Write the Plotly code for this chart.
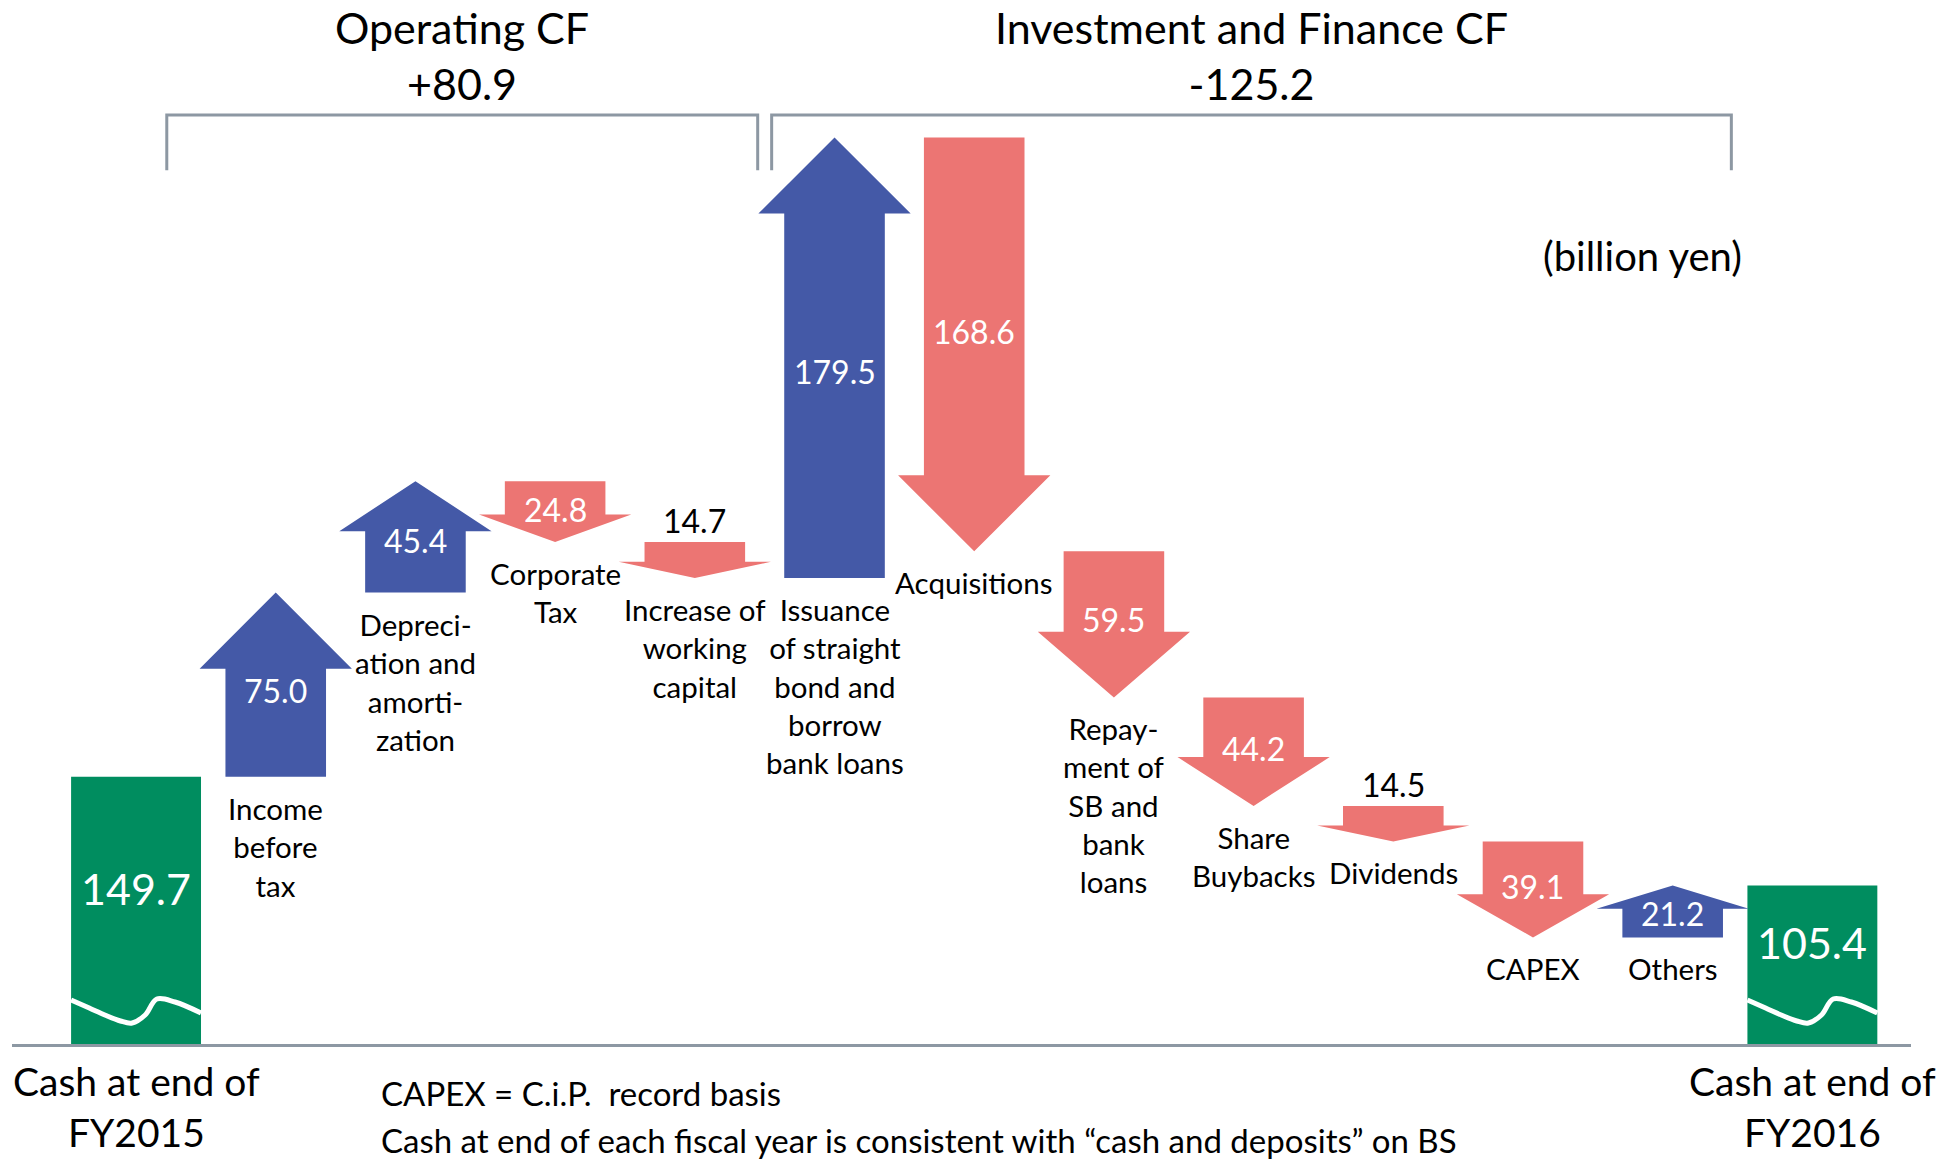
import plotly.graph_objects as go

# ---------------- data ----------------
categories = [
    "Cash at end of FY2015", "Income before tax", "Depreciation and amortization",
    "Corporate Tax", "Increase of working capital",
    "Issuance of straight bond and borrow bank loans", "Acquisitions",
    "Repayment of SB and bank loans", "Share Buybacks", "Dividends", "CAPEX",
    "Others", "Cash at end of FY2016",
]
cash_start = 149.7
cash_end = 105.4
step_values = [75.0, 45.4, -24.8, -14.7, 179.5, -168.6, -59.5, -44.2, -14.5, -39.1, 21.2]
step_labels = [
    "Income<br>before<br>tax",
    "Depreci-<br>ation and<br>amorti-<br>zation",
    "Corporate<br>Tax",
    "Increase of<br>working<br>capital",
    "Issuance<br>of straight<br>bond and<br>borrow<br>bank loans",
    "Acquisitions",
    "Repay-<br>ment of<br>SB and<br>bank<br>loans",
    "Share<br>Buybacks",
    "Dividends",
    "CAPEX",
    "Others",
]
operating_steps = 4  # first four steps belong to operating CF
cash_labels = ["Cash at end of<br>FY2015", "Cash at end of<br>FY2016"]
group_titles = ["Operating CF", "Investment and Finance CF"]
unit_label = "(billion yen)"
footnotes = [
    "CAPEX = C.i.P.  record basis",
    "Cash at end of each fiscal year is consistent with “cash and deposits” on BS",
]

# ---------------- style ----------------
BLUE = "#4459A7"
RED = "#EC7573"
GREEN = "#008D5F"
GRAY = "#8D98A3"
FONT = "Lato"

W, H = 1956, 1163
ML, MR, MT, MB = 12, 45, 0, 119
Y_MIN, Y_MAX = 40.8, 466.1
X_MIN, X_MAX = -0.888, 12.706
PLOT_H = H - MT - MB
UNIT_PER_PX = (Y_MAX - Y_MIN) / PLOT_H

SHAFT = 0.36      # half width of arrow shaft (category units)
HEAD = 0.545      # half width of arrow head
HEAD_FRAC = 0.45
HEAD_MAX = 31.0
BAR_W = 0.93

fig = go.Figure()

# ---------------- arrows ----------------
levels = []
level = cash_start
for i, v in enumerate(step_values):
    c = i + 1
    s = level
    e = s + v
    levels.append((s, e))
    h = min(HEAD_FRAC * abs(v), HEAD_MAX)
    neck = e - h if v > 0 else e + h
    xs = [c - SHAFT, c + SHAFT, c + SHAFT, c + HEAD, c, c - HEAD, c - SHAFT, c - SHAFT]
    ys = [s, s, neck, neck, e, neck, neck, s]
    col = BLUE if v > 0 else RED
    fig.add_trace(go.Scatter(x=xs, y=ys, mode="lines", fill="toself", fillcolor=col,
                             line=dict(width=0, color=col), hoverinfo="text",
                             text=f"{categories[c]}: {v:+.1f}"))
    level = e

# ---------------- cash bars ----------------
fig.add_trace(go.Bar(x=[0, len(categories) - 1], y=[cash_start, cash_end], width=BAR_W,
                     marker=dict(color=GREEN, line=dict(width=0)),
                     hovertext=[categories[0], categories[-1]], hoverinfo="text+y"))

# axis-break waves on cash bars
WAVE_FX = [-0.5, -0.36, -0.24, -0.12, -0.03, 0.07, 0.16, 0.30, 0.5]
WAVE_PX = [44, 36, 29, 23, 21, 29, 45, 42, 31]
for cx in [0, len(categories) - 1]:
    fig.add_trace(go.Scatter(
        x=[cx + f * BAR_W for f in WAVE_FX],
        y=[Y_MIN + p * UNIT_PER_PX for p in WAVE_PX],
        mode="lines", line=dict(color="white", width=5, shape="spline", smoothing=1.0),
        hoverinfo="skip"))

annotations = []

# cash values
for cx, val in [(0, cash_start), (len(categories) - 1, cash_end)]:
    annotations.append(dict(x=cx, y=(Y_MIN + 18 + val) / 2, xref="x", yref="y",
                            text=f"{val:.1f}", showarrow=False,
                            font=dict(family=FONT, size=43, color="white")))

# arrow values and labels
for i, v in enumerate(step_values):
    c = i + 1
    s, e = levels[i]
    if abs(v) < 20:
        annotations.append(dict(x=c, y=max(s, e), xref="x", yref="y", text=f"{abs(v):.1f}",
                                showarrow=False, yanchor="bottom", yshift=0,
                                font=dict(family=FONT, size=32, color="black")))
    else:
        annotations.append(dict(x=c, y=s + 0.47 * v, xref="x", yref="y", text=f"{abs(v):.1f}",
                                showarrow=False,
                                font=dict(family=FONT, size=32, color="white")))
    annotations.append(dict(x=c, y=min(s, e), xref="x", yref="y", text=step_labels[i],
                            showarrow=False, yanchor="top", yshift=-12,
                            font=dict(family=FONT, size=29.5, color="black")))

# cash category labels below axis
for cx, lab in [(0, cash_labels[0]), (len(categories) - 1, cash_labels[1])]:
    annotations.append(dict(x=cx, y=-0.0594, xref="x", yref="paper", text=lab,
                            showarrow=False, yanchor="middle",
                            font=dict(family=FONT, size=39, color="black")))

# group brackets and titles
op_total = sum(step_values[:operating_steps])
inv_total = sum(step_values[operating_steps:])
groups = [
    (1 - 0.78, operating_steps + 0.45, group_titles[0], op_total),
    (operating_steps + 0.55, len(step_values) + 0.42, group_titles[1], inv_total),
]
shapes = []
for x0, x1, title, total in groups:
    shapes.append(dict(type="path", xref="x", yref="paper",
                       path=f"M {x0},0.837 L {x0},0.8898 L {x1},0.8898 L {x1},0.837",
                       line=dict(color=GRAY, width=3)))
    annotations.append(dict(x=(x0 + x1) / 2, y=0.9464, xref="x", yref="paper",
                            text=f"{title}<br>{total:+.1f}", showarrow=False, yanchor="middle",
                            font=dict(family=FONT, size=43, color="black")))

annotations.append(dict(x=0.912, y=0.7548, xref="paper", yref="paper", text=unit_label,
                        showarrow=False, xanchor="right", yanchor="middle",
                        font=dict(family=FONT, size=40, color="black")))

for k, note in enumerate(footnotes):
    annotations.append(dict(x=0.1933, y=[-0.0465, -0.0915][k], xref="paper", yref="paper",
                            text=note, showarrow=False, xanchor="left", yanchor="middle",
                            font=dict(family=FONT, size=33, color="black")))

fig.update_layout(
    width=W, height=H,
    margin=dict(l=ML, r=MR, t=MT, b=MB, pad=0),
    paper_bgcolor="white", plot_bgcolor="white",
    showlegend=False,
    font=dict(family=FONT, color="black"),
    xaxis=dict(range=[X_MIN, X_MAX], showline=True, linecolor=GRAY, linewidth=3,
               showgrid=False, zeroline=False, showticklabels=False, ticks="", fixedrange=True),
    yaxis=dict(range=[Y_MIN, Y_MAX], visible=False, fixedrange=True),
    annotations=annotations,
    shapes=shapes,
)

fig.write_html("out.html", config={"displayModeBar": False},
               post_script="document.body.style.margin='0';document.body.style.overflow='hidden';")
